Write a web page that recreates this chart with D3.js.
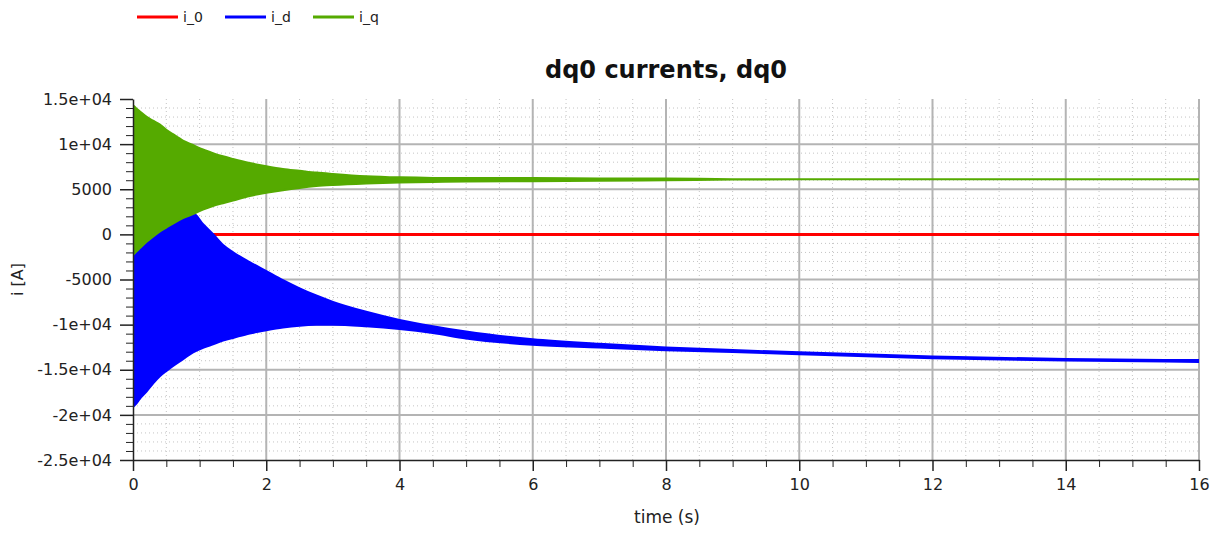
<!DOCTYPE html>
<html>
<head>
<meta charset="utf-8">
<script src="https://cdn.jsdelivr.net/npm/d3@7"></script>
<style>
  body { margin: 0; background: #fff; }
  svg { display: block; font-family: "DejaVu Sans", Verdana, sans-serif; }
  .axis path, .axis line { stroke: #222; }
  .axis text { fill: #222; font-size: 16px; font-family: "DejaVu Sans", sans-serif; }
</style>
</head>
<body>
<svg id="chart" width="1221" height="533"></svg>
<script>
// series names and colours
var seriesNames = ["i_0", "i_d", "i_q"];
var seriesColors = ["#ff0000", "#0000ff", "#55aa00"];

// sample times (s) for the envelopes of the oscillating currents
var time = [0, 0.05, 0.1, 0.2, 0.3, 0.4, 0.5, 0.6, 0.75, 0.9, 1.05, 1.2, 1.35, 1.5, 1.75, 2, 2.25, 2.5, 2.75, 3, 3.5, 4, 4.5, 5, 6, 7, 8, 9, 10, 12, 14, 16];

// i_q envelope (A)
var iqUpper = [14300, 13950, 13650, 13050, 12600, 12200, 11600, 11100, 10400, 9900, 9400, 9000, 8650, 8350, 7900, 7550, 7250, 7050, 6850, 6700, 6450, 6320, 6260, 6250, 6250, 6200, 6180, 6120, 6100, 6100, 6100, 6100];
var iqLower = [-2300, -1900, -1550, -850, -250, 300, 750, 1200, 1800, 2250, 2750, 3150, 3450, 3750, 4250, 4600, 4900, 5150, 5350, 5480, 5650, 5750, 5800, 5850, 5900, 5950, 6000, 6080, 6100, 6100, 6100, 6100];

// i_d envelope (A)
var idUpper = [-2300, -1900, -1550, -850, -250, 300, 750, 1200, 1800, 2300, 1100, 0, -1200, -2000, -3100, -4100, -5100, -6000, -6800, -7500, -8600, -9500, -10200, -10800, -11650, -12150, -12550, -12850, -13100, -13550, -13850, -13950];
var idLower = [-19100, -18700, -18200, -17400, -16500, -15700, -15100, -14550, -13800, -13050, -12550, -12150, -11750, -11450, -10950, -10600, -10300, -10100, -10000, -9980, -10150, -10450, -10900, -11500, -12200, -12500, -12800, -13000, -13250, -13700, -13950, -14100];

// i_0 stays at zero
var i0Time = [0, 16];
var i0Values = [0, 0];

// ticks
var xTicks = [0, 2, 4, 6, 8, 10, 12, 14, 16];
var yTicks = [-25000, -20000, -15000, -10000, -5000, 0, 5000, 10000, 15000];
var yTickLabels = ["-2.5e+04", "-2e+04", "-1.5e+04", "-1e+04", "-5000", "0", "5000", "1e+04", "1.5e+04"];

var margin = {top: 99, right: 22, bottom: 73, left: 133},
  width = 1221 - margin.left - margin.right,
  height = 533 - margin.top - margin.bottom;

var svg = d3.select("#chart");

var x = d3.scaleLinear().domain([0, 16]).range([0, width]);
var y = d3.scaleLinear().domain([-25000, 15000]).range([height, 0]);

var g = svg.append("g")
  .attr("transform", "translate(" + margin.left + "," + margin.top + ")");

svg.append("defs").append("clipPath").attr("id", "clip")
  .append("rect").attr("width", width).attr("height", height);

// minor grid (dotted)
var xMinor = d3.range(0, 16.001, 0.5).filter(function(d) { return d % 2 !== 0; });
var yMinor = d3.range(-25000, 15001, 1000).filter(function(d) { return d % 5000 !== 0; });

g.append("g").selectAll("line").data(xMinor).enter().append("line")
  .attr("x1", function(d) { return x(d); }).attr("x2", function(d) { return x(d); })
  .attr("y1", 0).attr("y2", height)
  .attr("stroke", "#c4c4c4").attr("stroke-dasharray", "1,3");

g.append("g").selectAll("line").data(yMinor).enter().append("line")
  .attr("x1", 0).attr("x2", width)
  .attr("y1", function(d) { return y(d); }).attr("y2", function(d) { return y(d); })
  .attr("stroke", "#c4c4c4").attr("stroke-dasharray", "1,3");

// major grid (solid)
g.append("g").selectAll("line").data(xTicks.slice(1)).enter().append("line")
  .attr("x1", function(d) { return x(d); }).attr("x2", function(d) { return x(d); })
  .attr("y1", 0).attr("y2", height)
  .attr("stroke", "#b4b4b4").attr("stroke-width", 2);

g.append("g").selectAll("line").data(yTicks.slice(1, -1)).enter().append("line")
  .attr("x1", 0).attr("x2", width)
  .attr("y1", function(d) { return y(d); }).attr("y2", function(d) { return y(d); })
  .attr("stroke", "#b4b4b4").attr("stroke-width", 2);

// series
var plot = g.append("g").attr("clip-path", "url(#clip)");

var line = d3.line()
  .x(function(d, i) { return x(i0Time[i]); })
  .y(function(d) { return y(d); });

plot.append("path")
  .datum(i0Values)
  .attr("d", line)
  .attr("fill", "none")
  .attr("stroke", seriesColors[0])
  .attr("stroke-width", 3);

function band(upper, lower) {
  return d3.area()
    .curve(d3.curveMonotoneX)
    .x(function(d, i) { return x(time[i]); })
    .y0(function(d, i) { return y(lower[i]); })
    .y1(function(d) { return y(d); })(upper);
}

plot.append("path")
  .attr("d", band(idUpper, idLower))
  .attr("fill", seriesColors[1])
  .attr("stroke", seriesColors[1])
  .attr("stroke-width", 2.5)
  .attr("stroke-linejoin", "round");

plot.append("path")
  .attr("d", band(iqUpper, iqLower))
  .attr("fill", seriesColors[2])
  .attr("stroke", seriesColors[2])
  .attr("stroke-width", 2)
  .attr("stroke-linejoin", "round");

// axes: minor ticks first, then major with labels
g.append("g")
  .attr("class", "axis")
  .attr("transform", "translate(0," + height + ")")
  .call(d3.axisBottom(x).tickValues(xMinor).tickSize(7).tickFormat(""))
  .call(function(s) { s.select(".domain").remove(); });

g.append("g")
  .attr("class", "axis")
  .attr("transform", "translate(0," + height + ")")
  .call(d3.axisBottom(x).tickValues(xTicks).tickSize(11).tickSizeOuter(0).tickPadding(8).tickFormat(d3.format("d")))
  .call(function(s) { s.selectAll("line, path").attr("stroke-width", 1.5); });

g.append("g")
  .attr("class", "axis")
  .call(d3.axisLeft(y).tickValues(yMinor).tickSize(7).tickFormat(""))
  .call(function(s) { s.select(".domain").remove(); });

g.append("g")
  .attr("class", "axis")
  .call(d3.axisLeft(y).tickValues(yTicks).tickSize(13).tickSizeOuter(0).tickPadding(8)
    .tickFormat(function(d, i) { return yTickLabels[i]; }))
  .call(function(s) { s.selectAll("line, path").attr("stroke-width", 1.5); });

// title and axis labels
svg.append("text")
  .attr("x", margin.left + width / 2)
  .attr("y", 78)
  .attr("text-anchor", "middle")
  .attr("font-size", "24px")
  .attr("font-weight", "bold")
  .attr("fill", "#111")
  .text("dq0 currents, dq0");

svg.append("text")
  .attr("x", margin.left + width / 2 + 1)
  .attr("y", 523)
  .attr("text-anchor", "middle")
  .attr("font-size", "17px")
  .attr("fill", "#222")
  .text("time (s)");

svg.append("text")
  .attr("transform", "translate(23," + (margin.top + height / 2) + ") rotate(-90)")
  .attr("text-anchor", "middle")
  .attr("font-size", "16px")
  .attr("fill", "#222")
  .text("i [A]");

// legend
var legendX = [137, 225, 313];
var legend = svg.append("g").selectAll("g")
  .data(seriesNames)
  .enter().append("g")
    .attr("transform", function(d, i) { return "translate(" + legendX[i] + ",17)"; });

legend.append("line")
  .attr("x1", 0).attr("x2", 41)
  .attr("stroke", function(d, i) { return seriesColors[i]; })
  .attr("stroke-width", 3);

legend.append("text")
  .attr("x", 46)
  .attr("y", 5)
  .attr("font-size", "14px")
  .attr("fill", "#222")
  .text(function(d) { return d; });
</script>
</body>
</html>
